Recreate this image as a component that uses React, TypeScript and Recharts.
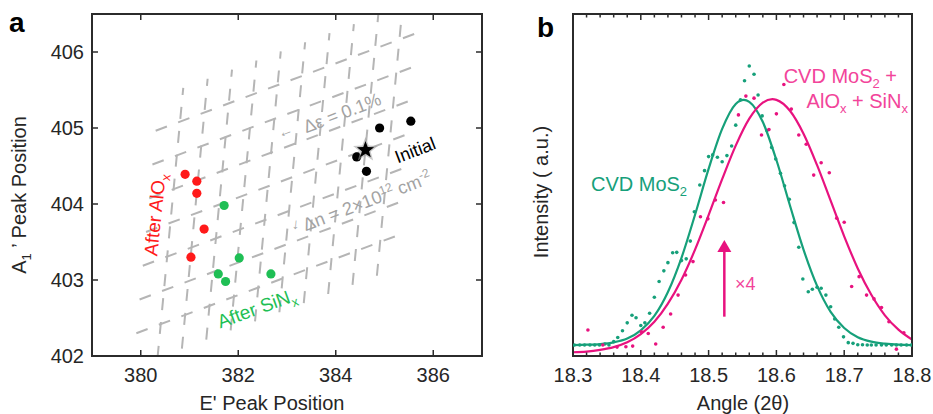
import React from 'react';
import { ComposedChart, Scatter, Line, XAxis, YAxis, ReferenceLine, ReferenceDot } from 'recharts';

const FONT = "'Liberation Sans', Arial, Helvetica, sans-serif";
const AXIS = '#2b2b2b';
const TEXT = '#262626';
const GRAY = '#a3a3a3';
const GRID = '#b5b5b5';
const RED = '#ff1a1a';
const GREEN_A = '#1fbf55';
const TEAL = '#16a07a';
const PINK = '#e8127f';
const PINK_TEXT = '#f2449a';

// ---------------- panel a data ----------------
const initialE = [384.9, 385.54, 384.43, 384.63];
const initialA1 = [405.0, 405.09, 404.62, 404.43];
const starE = [384.61];
const starA1 = [404.71];
const aloxE = [380.91, 381.15, 381.15, 381.3, 381.03];
const aloxA1 = [404.39, 404.3, 404.14, 403.67, 403.3];
const sinxE = [381.71, 382.02, 381.59, 381.74, 382.67];
const sinxA1 = [403.98, 403.29, 403.08, 402.98, 403.08];
const eTicks = [380, 382, 384, 386];
const a1Ticks = [402, 403, 404, 405, 406];
const eDomain: [number, number] = [379, 387];
const a1Domain: [number, number] = [402, 406.5];

// strain / doping grid (origin, step per 0.1 % strain, step per 2e12 cm^-2)
const gridOrigin = [380.41, 402.42];
const strainStep = [0.5, 0.12];
const dopingStep = [0.066, 0.444];
const strainLineIdx = [0, 1, 2, 3, 4, 5, 6, 7, 8, 9];
const dopingLineIdx = [0, 1, 2, 3, 4, 5, 6];
const strainLineSpan = [-1, 7];
const dopingLineSpan = [-1, 10];

// ---------------- panel b data ----------------
const greenAngle = [
  18.302, 18.31, 18.317, 18.325, 18.332, 18.339, 18.347, 18.353, 18.36, 18.366,
  18.373, 18.38, 18.387, 18.393, 18.4, 18.406, 18.413, 18.42, 18.427, 18.434,
  18.44, 18.447, 18.453, 18.46, 18.467, 18.473, 18.479, 18.487, 18.494, 18.5,
  18.506, 18.513, 18.52, 18.527, 18.534, 18.54, 18.547, 18.553, 18.56, 18.567,
  18.573, 18.579, 18.586, 18.593, 18.599, 18.606, 18.612, 18.619, 18.626, 18.633,
  18.639, 18.647, 18.653, 18.66, 18.666, 18.673, 18.68, 18.686, 18.692, 18.699,
  18.706, 18.713, 18.72, 18.727, 18.734, 18.74, 18.747, 18.755, 18.762, 18.77,
  18.777, 18.784, 18.792, 18.799,
];
const greenIntensity = [
  3.2, 3.2, 3.2, 3.2, 3.2, 3.2, 3.5, 3.2, 4.2, 5.4,
  7.4, 9.7, 11.9, 11.2, 8.9, 9.7, 12.5, 17.2, 21.8, 24.9,
  27.3, 30.2, 30.3, 27.9, 28.4, 33.6, 42.2, 50.0, 54.2, 58.3,
  58.8, 58.1, 56.8, 58.6, 61.4, 67.5, 74.9, 80.5, 84.8, 82.4,
  76.3, 70.2, 65.9, 61.0, 57.6, 53.4, 49.8, 45.8, 39.0, 31.8,
  22.5, 18.8, 19.5, 20.1, 19.8, 17.8, 14.4, 10.8, 8.4, 5.6,
  3.9, 3.7, 3.3, 3.3, 3.2, 3.2, 3.2, 3.2, 3.2, 3.2,
  3.2, 3.2, 3.2, 3.2,
];
const pinkAngle = [
  18.322, 18.344, 18.365, 18.378, 18.388, 18.401, 18.411, 18.422, 18.433, 18.444,
  18.455, 18.466, 18.477, 18.488, 18.499, 18.51, 18.522, 18.544, 18.555, 18.567,
  18.578, 18.589, 18.6, 18.611, 18.622, 18.633, 18.644, 18.655, 18.666, 18.678,
  18.689, 18.7, 18.711, 18.722, 18.733, 18.744, 18.755, 18.766, 18.777, 18.788,
];
const pinkIntensity = [
  7.6, 3.2, 2.6, 2.7, 2.9, 7.1, 6.6, 3.5, 8.4, 12.3,
  17.8, 23.7, 27.6, 40.7, 40.1, 45.6, 44.9, 70.5, 76.0, 75.4,
  64.6, 66.2, 70.8, 79.4, 72.2, 64.6, 61.9, 52.9, 56.5, 53.6,
  40.3, 39.1, 20.3, 23.2, 17.8, 16.7, 14.2, 10.0, 2.0, 6.8,
];
const greenFitAngle = [
  18.3, 18.32, 18.34, 18.36, 18.38, 18.4, 18.42, 18.44, 18.46, 18.48, 18.5, 18.52, 18.54,
  18.552, 18.56, 18.58, 18.6, 18.62, 18.64, 18.66, 18.68, 18.7, 18.72, 18.74, 18.76, 18.78, 18.8,
];
const greenFit = [
  3.2, 3.3, 3.5, 4.0, 5.1, 7.5, 11.7, 18.7, 28.7, 41.3, 54.7, 66.4, 73.7,
  74.9, 74.3, 68.4, 57.3, 44.0, 31.1, 20.5, 12.9, 8.2, 5.5, 4.2, 3.6, 3.3, 3.2,
];
const pinkFitAngle = [
  18.3, 18.32, 18.34, 18.36, 18.38, 18.4, 18.42, 18.44, 18.46, 18.48, 18.5, 18.52, 18.54, 18.56, 18.58,
  18.594, 18.6, 18.62, 18.64, 18.66, 18.68, 18.7, 18.72, 18.74, 18.76, 18.78, 18.8,
];
const pinkFit = [
  1.1, 1.3, 1.8, 2.6, 4.0, 6.4, 10.0, 15.3, 22.3, 31.1, 41.2, 51.7, 61.5, 69.4, 74.1,
  75.1, 74.9, 71.7, 65.0, 55.8, 45.4, 35.0, 25.6, 17.9, 11.9, 7.7, 4.8,
];
const angleTicks = [
  18.3, 18.32, 18.34, 18.36, 18.38, 18.4, 18.42, 18.44, 18.46, 18.48, 18.5, 18.52, 18.54,
  18.56, 18.58, 18.6, 18.62, 18.64, 18.66, 18.68, 18.7, 18.72, 18.74, 18.76, 18.78, 18.8,
];
const angleMajors = [18.3, 18.4, 18.5, 18.6, 18.7, 18.8];
const angleDomain: [number, number] = [18.3, 18.8];
const intensityDomain: [number, number] = [0, 100];

// ---------------- helpers ----------------
const zip = (xs: number[], ys: number[]) => xs.map((x, i) => ({ x, y: ys[i] }));
const isIn = (arr: number[], v: number) => arr.some((m) => Math.abs(m - v) < 1e-6);

const gridPt = (i: number, j: number) => ({
  x: gridOrigin[0] + i * strainStep[0] + j * dopingStep[0],
  y: gridOrigin[1] + i * strainStep[1] + j * dopingStep[1],
});
const strainLines = strainLineIdx.map((i) => [gridPt(i, strainLineSpan[0]), gridPt(i, strainLineSpan[1])]);
const dopingLines = dopingLineIdx.map((j) => [gridPt(dopingLineSpan[0], j), gridPt(dopingLineSpan[1], j)]);

const frame = { stroke: AXIS, strokeWidth: 2, strokeLinecap: 'square' as const };

const bottomTick = (majors: number[], fmt: (v: number) => string, majorLen: number, minorLen: number) =>
  (p: any) => {
    const x = Number(p.x);
    const y = Number(p.y);
    const v = Number(p.payload.value);
    const major = isIn(majors, v);
    return (
      <g>
        <line x1={x} x2={x} y1={y} y2={y - (major ? majorLen : minorLen)} stroke={AXIS} strokeWidth={1.5} />
        {major && (
          <text x={x} y={y + 26} textAnchor="middle" fontSize={20} fill={TEXT} fontFamily={FONT}>
            {fmt(v)}
          </text>
        )}
      </g>
    );
  };

const topTick = (majors: number[], majorLen: number, minorLen: number) => (p: any) => {
  const x = Number(p.x);
  const y = Number(p.y);
  const major = isIn(majors, Number(p.payload.value));
  return <line x1={x} x2={x} y1={y} y2={y + (major ? majorLen : minorLen)} stroke={AXIS} strokeWidth={1.5} />;
};

const leftTick = (len: number) => (p: any) => {
  const x = Number(p.x);
  const y = Number(p.y);
  return (
    <g>
      <line x1={x} x2={x + len} y1={y} y2={y} stroke={AXIS} strokeWidth={1.5} />
      <text x={x - 8} y={y + 7} textAnchor="end" fontSize={20} fill={TEXT} fontFamily={FONT}>
        {String(p.payload.value)}
      </text>
    </g>
  );
};

const rightTick = (len: number) => (p: any) => {
  const x = Number(p.x);
  const y = Number(p.y);
  return <line x1={x} x2={x - len} y1={y} y2={y} stroke={AXIS} strokeWidth={1.5} />;
};

const dot = (r: number, color: string) => (p: any) => <circle cx={p.cx} cy={p.cy} r={r} fill={color} />;

const starShape = (p: any) => {
  const pts = (ro: number, ri: number) =>
    Array.from({ length: 10 }, (_, k) => {
      const a = -Math.PI / 2 + (k * Math.PI) / 5;
      const r = k % 2 === 0 ? ro : ri;
      return `${p.cx + r * Math.cos(a)},${p.cy + r * Math.sin(a)}`;
    }).join(' ');
  return (
    <g>
      <polygon points={pts(13, 5.5)} fill="#9a9a9a" opacity={0.55} />
      <polygon points={pts(9, 3.8)} fill="#000" />
    </g>
  );
};

const label = (
  content: React.ReactNode,
  opts: { angle?: number; size: number; color: string; anchor?: 'start' | 'middle' | 'end'; central?: boolean; weight?: string }
) => (p: any) => {
  const cx = Number(p.cx);
  const cy = Number(p.cy);
  const { angle = 0, size, color, anchor = 'middle', central = true } = opts;
  return (
    <text
      x={cx}
      y={cy}
      dy={central ? size * 0.35 : 0}
      transform={angle ? `rotate(${angle} ${cx} ${cy})` : undefined}
      textAnchor={anchor}
      fontSize={size}
      fill={color}
      fontFamily={FONT}
    >
      {content}
    </text>
  );
};

const arrowHead = (p: any) => (
  <polygon points={`${p.cx - 7},${p.cy} ${p.cx + 7},${p.cy} ${p.cx},${p.cy - 12}`} fill={PINK} />
);

// ---------------- panels ----------------
function PanelA() {
  return (
    <ComposedChart width={490} height={414} margin={{ top: 13, right: 7, bottom: 0, left: 0 }}>
      <XAxis
        dataKey="x"
        type="number"
        domain={eDomain}
        ticks={eTicks}
        allowDataOverflow
        interval={0}
        height={58}
        tickSize={0}
        tickMargin={0}
        tickLine={false}
        axisLine={frame}
        tick={bottomTick(eTicks, (v) => String(v), 6, 6)}
      />
      <XAxis
        xAxisId="top"
        orientation="top"
        dataKey="x"
        type="number"
        domain={eDomain}
        ticks={eTicks}
        allowDataOverflow
        interval={0}
        height={1}
        tickSize={0}
        tickMargin={0}
        tickLine={false}
        axisLine={frame}
        tick={topTick(eTicks, 6, 6)}
      />
      <YAxis
        dataKey="y"
        type="number"
        domain={a1Domain}
        ticks={a1Ticks}
        allowDataOverflow
        interval={0}
        width={92}
        tickSize={0}
        tickMargin={0}
        tickLine={false}
        axisLine={frame}
        tick={leftTick(6)}
      />
      <YAxis
        yAxisId="right"
        orientation="right"
        dataKey="y"
        type="number"
        domain={a1Domain}
        ticks={a1Ticks}
        allowDataOverflow
        interval={0}
        width={1}
        tickSize={0}
        tickMargin={0}
        tickLine={false}
        axisLine={frame}
        tick={rightTick(6)}
      />
      <Scatter data={zip(initialE, initialA1)} dataKey="y" fill="#000" shape={dot(4.6, '#000')} isAnimationActive={false} />
      <Scatter data={zip(aloxE, aloxA1)} dataKey="y" fill={RED} shape={dot(4.6, RED)} isAnimationActive={false} />
      <Scatter data={zip(sinxE, sinxA1)} dataKey="y" fill={GREEN_A} shape={dot(4.6, GREEN_A)} isAnimationActive={false} />
      {strainLines.map((s, k) => (
        <ReferenceLine key={'st' + k} segment={s} stroke={GRID} strokeWidth={2} strokeDasharray="12 12" ifOverflow="hidden" />
      ))}
      {dopingLines.map((s, k) => (
        <ReferenceLine key={'dp' + k} segment={s} stroke={GRID} strokeWidth={2} strokeDasharray="12 12" ifOverflow="hidden" />
      ))}
      <Scatter data={zip(starE, starA1)} dataKey="y" fill="#000" shape={starShape} isAnimationActive={false} />
      <ReferenceDot x={384.13} y={405.2} r={0} shape={label('Δε = 0.1%', { angle: -21, size: 18, color: GRAY })} />
      <ReferenceDot x={382.96} y={404.96} r={0} shape={label('←', { angle: -21, size: 15, color: GRAY })} />
      <ReferenceDot
        x={384.64}
        y={404.04}
        r={0}
        shape={label(
          <>
            {'Δn = 2×10'}
            <tspan fontSize={12} dy={-7}>12</tspan>
            <tspan dy={7}>{' cm'}</tspan>
            <tspan fontSize={12} dy={-7}>-2</tspan>
          </>,
          { angle: -21, size: 18, color: GRAY }
        )}
      />
      <ReferenceDot x={383.18} y={403.74} r={0} shape={label('↓', { angle: 6, size: 15, color: GRAY })} />
      <ReferenceDot x={385.63} y={404.71} r={0} shape={label('Initial', { angle: -21, size: 18, color: '#000' })} />
      <ReferenceDot
        x={380.29}
        y={403.86}
        r={0}
        shape={label(
          <>
            {'After AlO'}
            <tspan fontSize={13} dy={5}>x</tspan>
          </>,
          { angle: -84, size: 19, color: RED }
        )}
      />
      <ReferenceDot
        x={382.38}
        y={402.63}
        r={0}
        shape={label(
          <>
            {'After SiN'}
            <tspan fontSize={13} dy={5}>x</tspan>
          </>,
          { angle: -20, size: 19, color: GREEN_A }
        )}
      />
    </ComposedChart>
  );
}

function PanelB() {
  return (
    <ComposedChart width={443} height={414} margin={{ top: 13, right: 20, bottom: 0, left: 0 }}>
      <XAxis
        dataKey="x"
        type="number"
        domain={angleDomain}
        ticks={angleTicks}
        allowDataOverflow
        interval={0}
        height={58}
        tickSize={0}
        tickMargin={0}
        tickLine={false}
        axisLine={frame}
        tick={bottomTick(angleMajors, (v) => v.toFixed(1), 6, 3.5)}
      />
      <XAxis
        xAxisId="top"
        orientation="top"
        dataKey="x"
        type="number"
        domain={angleDomain}
        ticks={angleTicks}
        allowDataOverflow
        interval={0}
        height={1}
        tickSize={0}
        tickMargin={0}
        tickLine={false}
        axisLine={frame}
        tick={topTick(angleMajors, 6, 3.5)}
      />
      <YAxis dataKey="y" type="number" domain={intensityDomain} allowDataOverflow width={83} tick={false} tickLine={false} axisLine={frame} />
      <YAxis
        yAxisId="right"
        orientation="right"
        dataKey="y"
        type="number"
        domain={intensityDomain}
        allowDataOverflow
        width={1}
        tick={false}
        tickLine={false}
        axisLine={frame}
      />
      <Line data={zip(greenFitAngle, greenFit)} dataKey="y" type="monotone" stroke={TEAL} strokeWidth={2.2} dot={false} isAnimationActive={false} />
      <Line data={zip(pinkFitAngle, pinkFit)} dataKey="y" type="monotone" stroke={PINK} strokeWidth={2.2} dot={false} isAnimationActive={false} />
      <Scatter data={zip(greenAngle, greenIntensity)} dataKey="y" fill={TEAL} shape={dot(1.8, TEAL)} isAnimationActive={false} />
      <Scatter data={zip(pinkAngle, pinkIntensity)} dataKey="y" fill={PINK} shape={dot(1.8, PINK)} isAnimationActive={false} />
      <ReferenceLine segment={[{ x: 18.5232, y: 11.5 }, { x: 18.5232, y: 31 }]} stroke={PINK} strokeWidth={2.5} />
      <ReferenceDot x={18.5232} y={30.4} r={0} shape={arrowHead} />
      <ReferenceDot
        x={18.5389}
        y={19.3}
        r={0}
        shape={label('×4', { size: 18, color: PINK_TEXT, anchor: 'start', central: false })}
      />
      <ReferenceDot
        x={18.3265}
        y={48.3}
        r={0}
        shape={label(
          <>
            {'CVD MoS'}
            <tspan fontSize={13} dy={5}>2</tspan>
          </>,
          { size: 20, color: TEAL, anchor: 'start', central: false }
        )}
      />
      <ReferenceDot
        x={18.7779}
        y={79.7}
        r={0}
        shape={label(
          <>
            {'CVD MoS'}
            <tspan fontSize={13} dy={5}>2</tspan>
            <tspan dy={-5}>{' +'}</tspan>
          </>,
          { size: 20, color: PINK_TEXT, anchor: 'end', central: false }
        )}
      />
      <ReferenceDot
        x={18.7941}
        y={72.4}
        r={0}
        shape={label(
          <>
            {'AlO'}
            <tspan fontSize={13} dy={5}>x</tspan>
            <tspan dy={-5}>{' + SiN'}</tspan>
            <tspan fontSize={13} dy={5}>x</tspan>
          </>,
          { size: 20, color: PINK_TEXT, anchor: 'end', central: false }
        )}
      />
    </ComposedChart>
  );
}

export default function App() {
  return (
    <div
      style={{
        position: 'absolute',
        left: 0,
        top: 0,
        width: 933,
        height: 414,
        background: '#fff',
        fontFamily: FONT,
        overflow: 'hidden',
      }}
    >
      <div style={{ position: 'absolute', left: 0, top: 0 }}>
        <PanelA />
      </div>
      <div style={{ position: 'absolute', left: 490, top: 0 }}>
        <PanelB />
      </div>
      <svg
        width={933}
        height={414}
        style={{ position: 'absolute', left: 0, top: 0, pointerEvents: 'none' }}
        fontFamily={FONT}
      >
        <text x={9} y={31.5} fontSize={28} fontWeight="bold" fill="#000">a</text>
        <text x={537} y={36.5} fontSize={28} fontWeight="bold" fill="#000">b</text>
        <text x={272} y={410} textAnchor="middle" fontSize={20} fill={TEXT}>E' Peak Position</text>
        <text x={743} y={410} textAnchor="middle" fontSize={20} fill={TEXT}>Angle (2θ)</text>
        <text x={26} y={195} transform="rotate(-90 26 195)" textAnchor="middle" fontSize={20} fill={TEXT}>
          A<tspan fontSize={13} dy={5}>1</tspan>
          <tspan dy={-5}>{' ’ Peak Position'}</tspan>
        </text>
        <text x={548} y={192} transform="rotate(-90 548 192)" textAnchor="middle" fontSize={20} fill={TEXT}>
          Intensity ( a.u.)
        </text>
      </svg>
    </div>
  );
}
